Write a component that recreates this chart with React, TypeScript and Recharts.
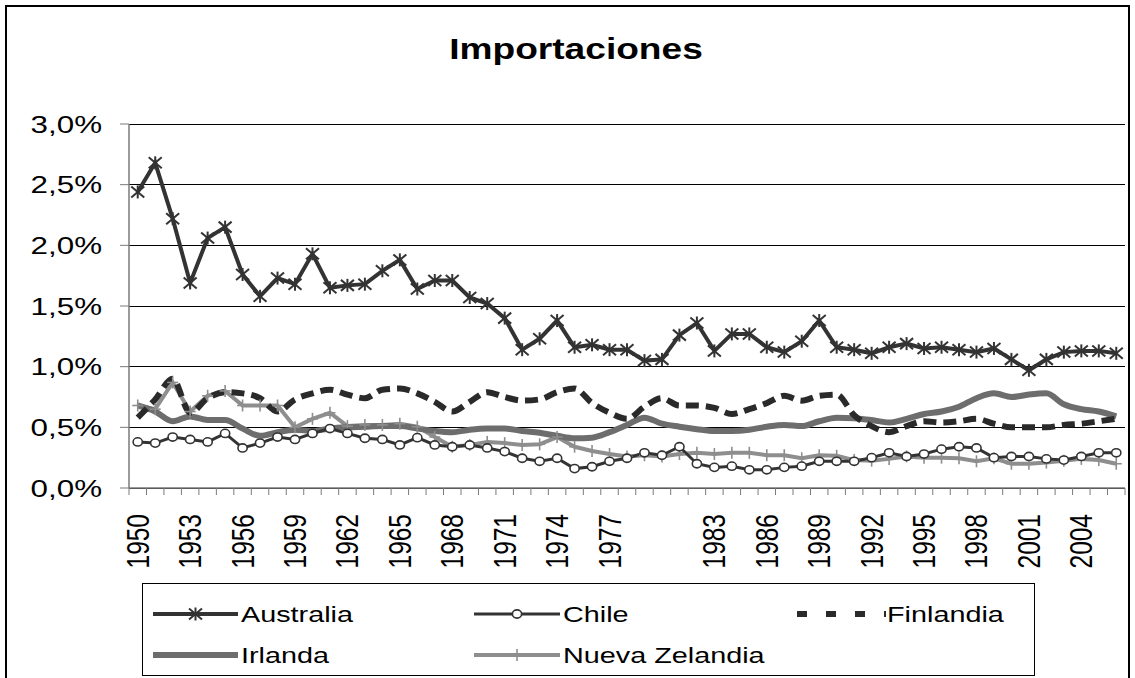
import React from 'react';
import { LineChart, Line, XAxis, YAxis, CartesianGrid } from 'recharts';

const years = [
  1950, 1951, 1952, 1953, 1954, 1955, 1956, 1957, 1958, 1959,
  1960, 1961, 1962, 1963, 1964, 1965, 1966, 1967, 1968, 1969,
  1970, 1971, 1972, 1973, 1974, 1975, 1976, 1977, 1978, 1979,
  1980, 1981, 1982, 1983, 1984, 1985, 1986, 1987, 1988, 1989,
  1990, 1991, 1992, 1993, 1994, 1995, 1996, 1997, 1998, 1999,
  2000, 2001, 2002, 2003, 2004, 2005, 2006,
];

const australia = [
  2.44, 2.68, 2.22, 1.69, 2.06, 2.15, 1.76, 1.58, 1.73, 1.68,
  1.93, 1.65, 1.67, 1.68, 1.79, 1.88, 1.64, 1.71, 1.71, 1.57,
  1.52, 1.40, 1.14, 1.23, 1.38, 1.16, 1.18, 1.14, 1.14, 1.05,
  1.06, 1.26, 1.36, 1.13, 1.27, 1.27, 1.16, 1.12, 1.21, 1.38,
  1.16, 1.14, 1.11, 1.16, 1.19, 1.15, 1.16, 1.14, 1.12, 1.15,
  1.06, 0.97, 1.06, 1.12, 1.13, 1.13, 1.11,
];

const chile = [
  0.38, 0.37, 0.42, 0.40, 0.38, 0.45, 0.33, 0.37, 0.42, 0.40,
  0.45, 0.49, 0.45, 0.41, 0.40, 0.355, 0.415, 0.355, 0.34, 0.355,
  0.33, 0.30, 0.245, 0.22, 0.245, 0.16, 0.175, 0.22, 0.245, 0.29,
  0.27, 0.34, 0.20, 0.17, 0.18, 0.15, 0.15, 0.17, 0.18, 0.22,
  0.22, 0.22, 0.25, 0.29, 0.26, 0.28, 0.32, 0.34, 0.33, 0.25,
  0.26, 0.26, 0.24, 0.23, 0.26, 0.29, 0.29,
];

const finlandia = [
  0.58, 0.73, 0.90, 0.62, 0.74, 0.79, 0.78, 0.74, 0.63, 0.73,
  0.78, 0.81, 0.77, 0.74, 0.81, 0.82, 0.78, 0.71, 0.63, 0.71,
  0.79, 0.75, 0.72, 0.73, 0.79, 0.82, 0.70, 0.62, 0.57, 0.67,
  0.74, 0.68, 0.68, 0.66, 0.61, 0.65, 0.70, 0.76, 0.72, 0.76,
  0.77, 0.60, 0.51, 0.46, 0.51, 0.55, 0.54, 0.55, 0.57, 0.53,
  0.50, 0.50, 0.50, 0.52, 0.53, 0.55, 0.57,
];

const irlanda = [
  0.68, 0.63, 0.55, 0.59, 0.56, 0.56, 0.49, 0.43, 0.46, 0.48,
  0.47, 0.49, 0.50, 0.505, 0.51, 0.51, 0.49, 0.47, 0.46, 0.48,
  0.49, 0.49, 0.47, 0.455, 0.43, 0.41, 0.415, 0.46, 0.52, 0.58,
  0.53, 0.505, 0.485, 0.47, 0.47, 0.48, 0.505, 0.52, 0.51, 0.55,
  0.58, 0.575, 0.56, 0.54, 0.57, 0.61, 0.63, 0.67, 0.74, 0.78,
  0.75, 0.77, 0.78, 0.69, 0.65, 0.63, 0.59,
];

const nuevaZelandia = [
  0.68, 0.65, 0.87, 0.63, 0.76, 0.80, 0.68, 0.68, 0.68, 0.50,
  0.57, 0.62, 0.51, 0.52, 0.52, 0.53, 0.505, 0.42, 0.34, 0.355,
  0.38, 0.37, 0.355, 0.36, 0.42, 0.34, 0.305, 0.28, 0.26, 0.27,
  0.26, 0.28, 0.29, 0.28, 0.29, 0.29, 0.27, 0.27, 0.245, 0.27,
  0.265, 0.23, 0.225, 0.24, 0.26, 0.25, 0.25, 0.245, 0.22, 0.245,
  0.20, 0.20, 0.21, 0.225, 0.24, 0.23, 0.20,
];

const labeledYears = [
  1950, 1953, 1956, 1959, 1962, 1965, 1968, 1971, 1974, 1977,
  1983, 1986, 1989, 1992, 1995, 1998, 2001, 2004,
];

const yTicks = [0, 0.5, 1, 1.5, 2, 2.5, 3];

const FONT = '"Liberation Sans", Arial, Helvetica, sans-serif';
const SX = 1.28;

const C_AUS = '#333333';
const C_CHI = '#333333';
const C_FIN = '#2a2a2a';
const C_IRL = '#6d6d6d';
const C_NZ = '#8e8e8e';

const data = years.map((year, i) => ({
  x: i,
  year,
  Australia: australia[i],
  Chile: chile[i],
  Finlandia: finlandia[i],
  Irlanda: irlanda[i],
  'Nueva Zelandia': nuevaZelandia[i],
}));

const boundaryTicks = years.map((_, i) => i - 0.5).concat([years.length - 0.5]);
const labelTicks = years
  .map((y, i) => (labeledYears.includes(y) ? i : -99))
  .filter((v) => v !== -99);
const xTicks = [...boundaryTicks, ...labelTicks].sort((a, b) => a - b);

function XTick(props: any) {
  const { x, y, payload } = props;
  const v = payload.value;
  if (!Number.isInteger(v)) {
    return <line x1={x} y1={y} x2={x} y2={y + 7} stroke="#7a7a7a" strokeWidth={1} />;
  }
  return (
    <text
      transform={`translate(${x},${y + 26}) scale(${SX},1) rotate(-90)`}
      textAnchor="end"
      dy="0.35em"
      fontSize={24.5}
      fontFamily={FONT}
      fill="#000"
    >
      {years[v]}
    </text>
  );
}

function YTick(props: any) {
  const { x, y, payload } = props;
  const label = Number(payload.value).toFixed(1).replace('.', ',') + '%';
  return (
    <text
      transform={`translate(${x},${y}) scale(${SX},1)`}
      textAnchor="end"
      dy="0.35em"
      fontSize={24.5}
      fontFamily={FONT}
      fill="#000"
    >
      {label}
    </text>
  );
}

function StarMark({ cx, cy, color }: any) {
  return (
    <g stroke={color} strokeWidth={2}>
      <line x1={cx} y1={cy - 6.5} x2={cx} y2={cy + 6.5} />
      <line x1={cx - 6.5} y1={cy - 5.5} x2={cx + 6.5} y2={cy + 5.5} />
      <line x1={cx - 6.5} y1={cy + 5.5} x2={cx + 6.5} y2={cy - 5.5} />
    </g>
  );
}

function CircleMark({ cx, cy, color }: any) {
  return <ellipse cx={cx} cy={cy} rx={4.6} ry={4.1} fill="#fff" stroke={color} strokeWidth={1.6} />;
}

function PlusMark({ cx, cy, color }: any) {
  return (
    <g stroke={color} strokeWidth={1.6}>
      <line x1={cx - 5.5} y1={cy} x2={cx + 5.5} y2={cy} />
      <line x1={cx} y1={cy - 6} x2={cx} y2={cy + 6} />
    </g>
  );
}

const starDot = (p: any) =>
  p.cx == null ? <g key={`s${p.index}`} /> : (
    <g key={`s${p.index}`}><StarMark cx={p.cx} cy={p.cy} color={C_AUS} /></g>
  );
const circleDot = (p: any) =>
  p.cx == null ? <g key={`c${p.index}`} /> : (
    <g key={`c${p.index}`}><CircleMark cx={p.cx} cy={p.cy} color={C_CHI} /></g>
  );
const plusDot = (p: any) =>
  p.cx == null ? <g key={`p${p.index}`} /> : (
    <g key={`p${p.index}`}><PlusMark cx={p.cx} cy={p.cy} color={C_NZ} /></g>
  );

function LegendText({ x, y, children }: any) {
  return (
    <text
      transform={`translate(${x},${y}) scale(${SX},1)`}
      fontSize={22.5}
      fontFamily={FONT}
      fill="#000"
      dy="0.35em"
    >
      {children}
    </text>
  );
}

function Overlay() {
  const r1 = 614;
  const r2 = 655;
  return (
    <svg
      width={1135}
      height={678}
      style={{ position: 'absolute', left: 0, top: 0, pointerEvents: 'none' }}
    >
      <rect x={6} y={6} width={1123} height={680} fill="none" stroke="#000" strokeWidth={2} />
      <text
        transform={`translate(576,59) scale(${SX},1)`}
        textAnchor="middle"
        fontSize={29}
        fontWeight="bold"
        fontFamily={FONT}
        fill="#000"
      >
        Importaciones
      </text>
      <rect x={142.5} y={583.5} width={892} height={92} fill="#fff" stroke="#000" strokeWidth={1} />
      {/* Australia */}
      <line x1={153} y1={r1} x2={238} y2={r1} stroke={C_AUS} strokeWidth={4} />
      <StarMark cx={195.5} cy={r1} color={C_AUS} />
      <LegendText x={241} y={r1}>Australia</LegendText>
      {/* Chile */}
      <line x1={474} y1={r1} x2={560} y2={r1} stroke={C_CHI} strokeWidth={3} />
      <CircleMark cx={517} cy={r1} color={C_CHI} />
      <LegendText x={563} y={r1}>Chile</LegendText>
      {/* Finlandia */}
      <line x1={797} y1={r1} x2={886} y2={r1} stroke={C_FIN} strokeWidth={6} strokeDasharray="10 19" />
      <LegendText x={887} y={r1}>Finlandia</LegendText>
      {/* Irlanda */}
      <line x1={153} y1={r2} x2={238} y2={r2} stroke={C_IRL} strokeWidth={6} />
      <LegendText x={241} y={r2}>Irlanda</LegendText>
      {/* Nueva Zelandia */}
      <line x1={474} y1={r2} x2={560} y2={r2} stroke={C_NZ} strokeWidth={4} />
      <PlusMark cx={517} cy={r2} color={C_NZ} />
      <LegendText x={563} y={r2}>Nueva Zelandia</LegendText>
    </svg>
  );
}

export default function App() {
  return (
    <div
      style={{
        position: 'absolute',
        left: 0,
        top: 0,
        width: 1135,
        height: 678,
        background: '#fff',
        overflow: 'hidden',
      }}
    >
      <LineChart
        width={1135}
        height={678}
        data={data}
        margin={{ top: 124, right: 10, left: 0, bottom: 0 }}
      >
        <CartesianGrid vertical={false} stroke="#000" strokeWidth={1} shapeRendering="crispEdges" />
        <XAxis
          dataKey="x"
          type="number"
          domain={[-0.5, years.length - 0.5]}
          ticks={xTicks}
          interval={0}
          height={190}
          tickSize={0}
          tickMargin={0}
          tickLine={false}
          axisLine={{ stroke: '#7a7a7a', strokeWidth: 1.5 }}
          tick={<XTick />}
          allowDecimals
        />
        <YAxis
          type="number"
          domain={[0, 3]}
          ticks={yTicks}
          interval={0}
          width={129}
          tickSize={9}
          tickMargin={18}
          tickLine={{ stroke: '#7a7a7a' }}
          axisLine={{ stroke: '#7a7a7a', strokeWidth: 1.5 }}
          tick={<YTick />}
        />
        <Line
          dataKey="Nueva Zelandia"
          stroke={C_NZ}
          strokeWidth={4}
          type="linear"
          dot={plusDot}
          isAnimationActive={false}
        />
        <Line
          dataKey="Irlanda"
          stroke={C_IRL}
          strokeWidth={6}
          type="monotone"
          dot={false}
          isAnimationActive={false}
        />
        <Line
          dataKey="Finlandia"
          stroke={C_FIN}
          strokeWidth={6}
          strokeDasharray="13 7"
          type="monotone"
          dot={false}
          isAnimationActive={false}
        />
        <Line
          dataKey="Chile"
          stroke={C_CHI}
          strokeWidth={3}
          type="linear"
          dot={circleDot}
          isAnimationActive={false}
        />
        <Line
          dataKey="Australia"
          stroke={C_AUS}
          strokeWidth={4}
          type="linear"
          dot={starDot}
          isAnimationActive={false}
        />
      </LineChart>
      <Overlay />
    </div>
  );
}
